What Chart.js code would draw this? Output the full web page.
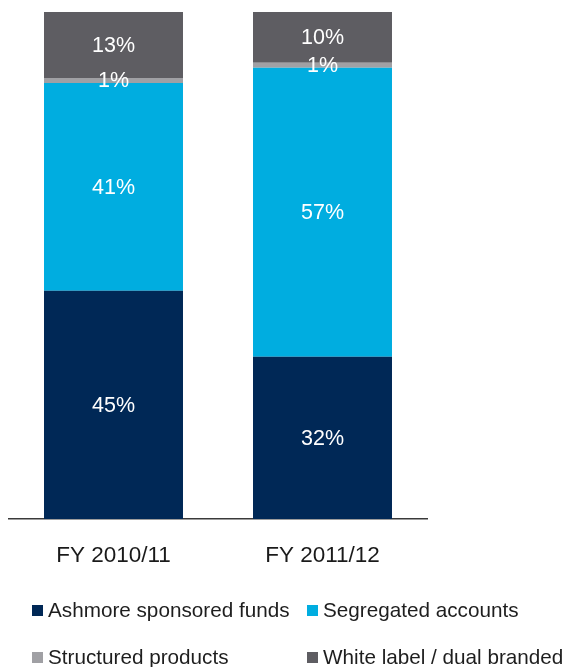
<!DOCTYPE html>
<html>
<head>
<meta charset="utf-8">
<script src="https://cdn.jsdelivr.net/npm/chart.js@4.4.1/dist/chart.umd.min.js"></script>
<style>
  html, body { margin: 0; padding: 0; background: #fff; }
  #wrap { position: relative; width: 570px; height: 667px; }
</style>
</head>
<body>
<div id="wrap"><canvas id="mix"></canvas></div>
<script>
// Share of AuM by channel, percent
const periods = ['FY 2010/11', 'FY 2011/12'];
const sponsoredFunds = [45, 32];
const segregatedAccounts = [41, 57];
const structuredProducts = [1, 1];
const whiteLabel = [13, 10];

const seriesNames = ['Ashmore sponsored funds', 'Segregated accounts', 'Structured products', 'White label / dual branded'];
const seriesColors = ['#002856', '#00ADE0', '#A0A0A4', '#5E5D62'];

const FONT = '"Liberation Sans", Arial, sans-serif';

// White percentage text centred in each segment
const segmentLabels = {
  id: 'segmentLabels',
  afterDatasetsDraw(chart) {
    const ctx = chart.ctx;
    ctx.save();
    ctx.fillStyle = '#ffffff';
    ctx.font = '21.5px ' + FONT;
    ctx.textAlign = 'center';
    ctx.textBaseline = 'middle';
    chart.data.datasets.forEach((ds, i) => {
      const meta = chart.getDatasetMeta(i);
      meta.data.forEach((bar, j) => {
        const v = ds.data[j];
        const mid = (bar.y + bar.base) / 2;
        ctx.fillText(v + '%', bar.x, mid + 1);
      });
    });
    ctx.restore();
  }
};

// Two-row legend under the axis
const legendRows = {
  id: 'legendRows',
  afterDraw(chart) {
    const ctx = chart.ctx;
    const spots = [
      { x: 32, y: 610 },
      { x: 307, y: 610 },
      { x: 32, y: 657 },
      { x: 307, y: 657 }
    ];
    ctx.save();
    ctx.font = '20.7px ' + FONT;
    ctx.textBaseline = 'middle';
    seriesNames.forEach((name, i) => {
      const p = spots[i];
      ctx.fillStyle = seriesColors[i];
      ctx.fillRect(p.x, p.y - 5, 11, 11);
      ctx.fillStyle = '#1e1e1e';
      ctx.fillText(name, p.x + 16, p.y + 1);
    });
    ctx.restore();
  }
};

const datasets = [sponsoredFunds, segregatedAccounts, structuredProducts, whiteLabel].map((vals, i) => ({
  label: seriesNames[i],
  data: vals,
  backgroundColor: seriesColors[i],
  borderWidth: 0,
  barPercentage: 0.665,
  categoryPercentage: 1
}));

new Chart(document.getElementById('mix'), {
  type: 'bar',
  data: { labels: periods, datasets: datasets },
  plugins: [segmentLabels, legendRows],
  options: {
    responsive: true,
    maintainAspectRatio: false,
    animation: false,
    layout: { padding: { left: 9, right: 143, top: 12, bottom: 0 } },
    plugins: {
      legend: { display: false },
      tooltip: { enabled: false }
    },
    scales: {
      x: {
        stacked: true,
        grid: { display: false },
        border: { display: true, color: '#3a3a3a', width: 1.5 },
        ticks: { color: '#1a1a1a', font: { family: FONT, size: 22.5 }, padding: 15 },
        afterFit(scale) { scale.height = 148; }
      },
      y: {
        stacked: true,
        display: false,
        min: 0,
        max: 100
      }
    }
  }
});
</script>
</body>
</html>
